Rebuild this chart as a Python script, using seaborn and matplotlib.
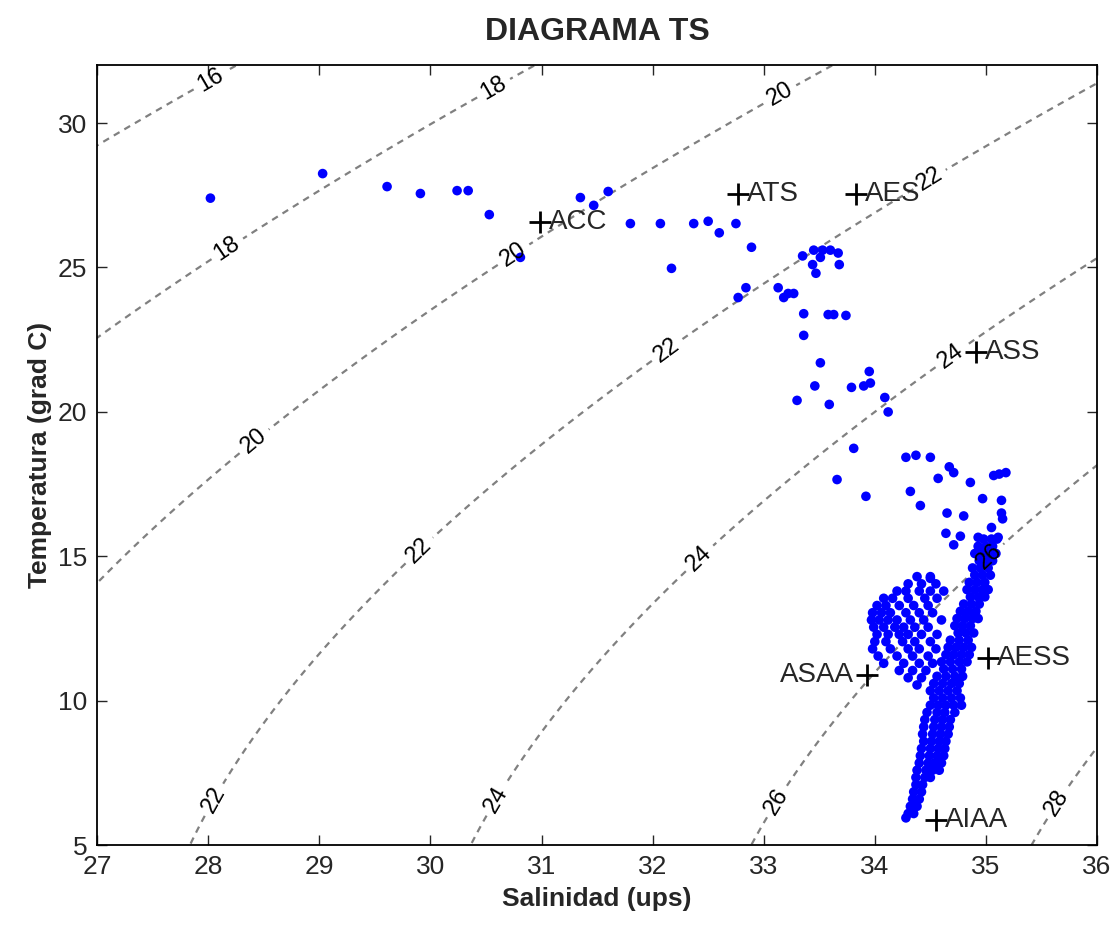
import numpy as np
import pandas as pd
import matplotlib
matplotlib.use("Agg")
import matplotlib.pyplot as plt
import seaborn as sns

# warm surface samples (salinity, temperature)
upper_sal = [28.02, 29.03, 29.61, 29.91, 30.24, 30.34, 30.53, 30.81, 31.35, 31.47,
             31.60, 31.80, 32.07, 32.37, 32.50, 32.60, 32.75, 32.89, 32.17]
upper_temp = [27.40, 28.25, 27.80, 27.56, 27.66, 27.66, 26.83, 25.35, 27.42, 27.15,
              27.63, 26.52, 26.52, 26.52, 26.60, 26.20, 26.52, 25.70, 24.97]

# thermocline samples
mid_sal = [33.35, 33.45, 33.53, 33.60, 33.67, 33.68, 33.44, 33.47, 33.51, 32.84,
           32.77, 33.13, 33.18, 33.27, 33.22, 33.36, 33.58, 33.63, 33.74, 33.36,
           33.51, 33.46, 33.30, 33.59, 33.79, 33.90, 33.96, 33.95, 34.09, 34.12]
mid_temp = [25.40, 25.60, 25.60, 25.60, 25.50, 25.10, 25.10, 24.80, 25.35, 24.30,
            23.96, 24.30, 23.96, 24.10, 24.10, 23.40, 23.37, 23.37, 23.34, 22.65,
            21.70, 20.90, 20.40, 20.26, 20.85, 20.90, 21.00, 21.40, 20.50, 20.00]

low_sal = [33.81, 33.66, 33.92, 34.28, 34.37, 34.50, 34.67, 34.71, 34.57, 34.86,
           35.07, 35.18, 35.12, 34.32, 34.41, 34.97, 35.14, 35.14, 35.15, 34.65,
           34.80, 34.64, 34.77, 35.05, 35.11, 34.71, 34.93, 34.50]
low_temp = [18.74, 17.66, 17.08, 18.43, 18.50, 18.43, 18.10, 17.90, 17.70, 17.56,
            17.80, 17.90, 17.85, 17.25, 16.76, 17.00, 16.94, 16.50, 16.30, 16.50,
            16.40, 15.80, 15.70, 16.00, 15.66, 15.40, 15.66, 14.24]

# dense deep branch: (temperature, salinities)
core_rows = [
    (15.60, [34.98, 35.05, 35.10]), (15.35, [34.93, 35.00, 35.06]),
    (15.10, [34.90, 34.96, 35.03, 35.09]), (14.85, [34.94, 35.00, 35.06]),
    (14.60, [34.88, 34.95, 35.02]), (14.35, [34.90, 34.97, 35.04]),
    (14.10, [34.85, 34.92, 34.99]), (13.85, [34.83, 34.90, 34.97, 35.02]),
    (13.60, [34.86, 34.93, 34.99]), (13.35, [34.80, 34.87, 34.94]),
    (13.10, [34.77, 34.84, 34.91]), (12.85, [34.74, 34.81, 34.88, 34.93]),
    (12.60, [34.72, 34.79, 34.86]), (12.35, [34.75, 34.82, 34.89]),
    (12.10, [34.68, 34.76, 34.84]), (11.85, [34.66, 34.73, 34.80, 34.87]),
    (11.60, [34.64, 34.71, 34.78, 34.85]), (11.35, [34.60, 34.68, 34.76, 34.83]),
    (11.10, [34.62, 34.70, 34.78]), (10.85, [34.56, 34.64, 34.72, 34.79]),
    (10.60, [34.53, 34.61, 34.69, 34.76]), (10.35, [34.50, 34.58, 34.66, 34.74]),
    (10.10, [34.53, 34.61, 34.69, 34.77]), (9.85, [34.50, 34.57, 34.64, 34.71, 34.78]),
    (9.60, [34.47, 34.56, 34.63, 34.72]), (9.35, [34.45, 34.54, 34.61, 34.68]),
    (9.10, [34.44, 34.53, 34.60, 34.67]), (8.85, [34.43, 34.52, 34.59, 34.66]),
    (8.60, [34.44, 34.51, 34.58, 34.64]), (8.35, [34.42, 34.50, 34.57, 34.63]),
    (8.10, [34.41, 34.49, 34.56, 34.62]), (7.85, [34.40, 34.48, 34.54, 34.60]),
    (7.60, [34.38, 34.46, 34.52, 34.58]), (7.35, [34.37, 34.45, 34.50]),
    (7.10, [34.37, 34.43]), (6.85, [34.35, 34.42]),
    (6.60, [34.34, 34.40]), (6.35, [34.32, 34.38]),
    (6.10, [34.30, 34.35]), (5.95, [34.28]),
]
shelf_rows = [
    (14.30, [34.38, 34.50]), (14.05, [34.30, 34.42, 34.55]),
    (13.80, [34.20, 34.28, 34.40, 34.50, 34.62]),
    (13.55, [34.08, 34.16, 34.30, 34.45, 34.56]),
    (13.30, [34.02, 34.10, 34.22, 34.35, 34.48]),
    (13.05, [33.98, 34.06, 34.14, 34.28, 34.40, 34.52]),
    (12.80, [33.97, 34.04, 34.12, 34.20, 34.32, 34.44, 34.60]),
    (12.55, [33.99, 34.08, 34.18, 34.26, 34.36, 34.48]),
    (12.30, [34.02, 34.12, 34.22, 34.30, 34.42, 34.56]),
    (12.05, [34.00, 34.10, 34.25, 34.36, 34.50]),
    (11.80, [33.98, 34.14, 34.30, 34.40, 34.55]),
    (11.55, [34.03, 34.20, 34.34, 34.48]),
    (11.30, [34.08, 34.26, 34.40, 34.52]),
    (11.05, [34.22, 34.34, 34.46]), (10.80, [34.30, 34.42]), (10.55, [34.38]),
]

# water masses
mass_names = ["ACC", "ATS", "AES", "ASS", "ASAA", "AESS", "AIAA"]
mass_sal = [30.99, 32.77, 33.83, 34.91, 33.93, 35.02, 34.55]
mass_temp = [26.56, 27.56, 27.56, 22.06, 10.88, 11.47, 5.87]

sigma_levels = [16, 18, 20, 22, 24, 26, 28]
label_spots = [(28.02, 31.47), (28.18, 25.6), (30.57, 31.2), (28.41, 19.0),
               (30.72, 25.6), (33.15, 30.95), (28.06, 6.56), (29.9, 15.2),
               (32.14, 22.1), (34.5, 28.0), (30.6, 6.56), (32.43, 14.9),
               (34.68, 21.95), (33.1, 6.56), (35.0, 15.1), (35.6, 6.56)]


def sigma_t(s, t):
    # UNESCO 1980 equation of state at surface pressure
    rho_w = (999.842594 + 6.793952e-2 * t - 9.095290e-3 * t**2 + 1.001685e-4 * t**3
             - 1.120083e-6 * t**4 + 6.536332e-9 * t**5)
    a = 0.824493 - 4.0899e-3 * t + 7.6438e-5 * t**2 - 8.2467e-7 * t**3 + 5.3875e-9 * t**4
    b = -5.72466e-3 + 1.0227e-4 * t - 1.6546e-6 * t**2
    return rho_w + a * s + b * s**1.5 + 4.8314e-4 * s**2 - 1000.0


rows = []
for t, sals in core_rows + shelf_rows:
    for s in sals:
        rows.append((s, t))
deep = pd.DataFrame(rows, columns=["sal", "temp"])
samples = pd.concat([
    pd.DataFrame({"sal": upper_sal, "temp": upper_temp}),
    pd.DataFrame({"sal": mid_sal, "temp": mid_temp}),
    pd.DataFrame({"sal": low_sal, "temp": low_temp}),
    deep,
], ignore_index=True)

sns.set_style("ticks")
plt.rcParams["font.family"] = ["Liberation Sans", "DejaVu Sans"]

fig = plt.figure(figsize=(11.16, 9.32), dpi=100)
ax = fig.add_axes([0.087, 0.093, 0.896, 0.837])

# density (sigma-t) isolines
sg, tg = np.meshgrid(np.linspace(26.5, 36.5, 400), np.linspace(4, 33, 400))
cs = ax.contour(sg, tg, sigma_t(sg, tg), levels=sigma_levels, colors="#808080",
                linewidths=1.6, linestyles=[(0, (3, 2.5))])
ax.clabel(cs, fmt="%d", fontsize=17, colors="black", inline=True,
          inline_spacing=4, manual=label_spots)

sns.scatterplot(data=samples, x="sal", y="temp", color="#0000ff", s=48,
                edgecolor="none", ax=ax, zorder=3)

ax.plot(mass_sal, mass_temp, "+", color="black", markersize=16, mew=2, zorder=4)
for name, s, t in zip(mass_names, mass_sal, mass_temp):
    if name == "ASAA":
        ax.text(s - 0.12, t, name, ha="right", va="center", fontsize=20, zorder=5)
    else:
        ax.text(s + 0.08, t, name, ha="left", va="center", fontsize=20, zorder=5)

ax.set_xlim(27, 36)
ax.set_ylim(5, 32)
ax.set_xticks(range(27, 37))
ax.set_yticks([5, 10, 15, 20, 25, 30])
ax.tick_params(direction="in", top=True, right=True, length=7, width=1,
               labelsize=19, pad=7)
for sp in ax.spines.values():
    sp.set_linewidth(1.3)
    sp.set_color("black")

ax.set_title("DIAGRAMA TS", fontsize=23, fontweight="bold", pad=18)
ax.set_xlabel("Salinidad (ups)", fontsize=19, fontweight="bold", labelpad=6)
ax.set_ylabel("Temperatura (grad C)", fontsize=19, fontweight="bold", labelpad=4)

fig.savefig("out.png", dpi=100)
